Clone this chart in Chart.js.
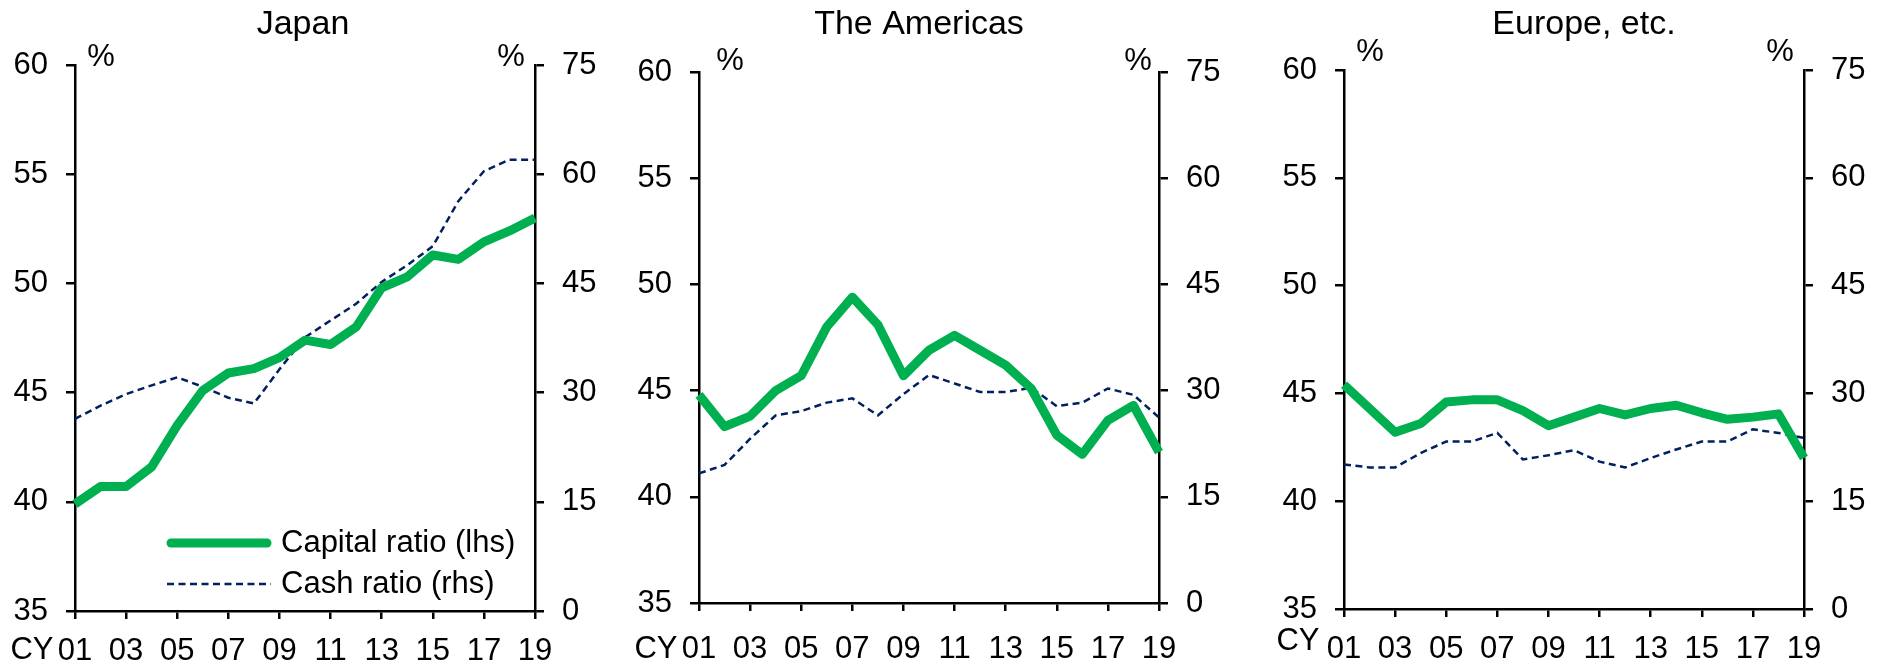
<!DOCTYPE html>
<html lang="en">
<head>
<meta charset="UTF-8">
<title>Capital ratio and cash ratio by region</title>
<style>
  body { margin: 0; background: #fff; }
  .wrap { position: relative; width: 1881px; height: 666px; overflow: hidden; }
  .wrap canvas { position: absolute; top: 0; }
</style>
</head>
<body>
<div class="wrap">
  <canvas id="japan" width="627" height="666" style="left:0px"></canvas>
  <canvas id="americas" width="627" height="666" style="left:627px"></canvas>
  <canvas id="europe" width="627" height="666" style="left:1254px"></canvas>
</div>

<script src="https://cdn.jsdelivr.net/npm/chart.js@4"></script>
<script>
// calendar years 2001-2019
const years = ['01','02','03','04','05','06','07','08','09','10','11','12','13','14','15','16','17','18','19'];
const leftTicks = [35, 40, 45, 50, 55, 60];
const rightTicks = [0, 15, 30, 45, 60, 75];

// capital ratio, lhs (%)
const japanCapital    = [39.9, 40.7, 40.7, 41.6, 43.5, 45.1, 45.9, 46.1, 46.6, 47.4, 47.2, 48.0, 49.8, 50.3, 51.3, 51.1, 51.9, 52.4, 53.0];
const americasCapital = [44.8, 43.3, 43.8, 45.0, 45.7, 48.0, 49.4, 48.1, 45.7, 46.9, 47.6, 46.9, 46.2, 45.1, 42.9, 42.0, 43.6, 44.3, 42.1];
const europeCapital   = [45.4, 44.3, 43.2, 43.6, 44.6, 44.7, 44.7, 44.2, 43.5, 43.9, 44.3, 44.0, 44.3, 44.45, 44.1, 43.8, 43.9, 44.05, 42.0];

// cash ratio, rhs (%)
const japanCash    = [26.4, 28.2, 29.8, 31.0, 32.1, 30.8, 29.3, 28.5, 33.2, 37.6, 39.9, 42.2, 45.2, 47.5, 50.1, 56.3, 60.4, 62.0, 62.0];
const americasCash = [18.3, 19.5, 23.2, 26.5, 27.1, 28.3, 28.9, 26.5, 29.5, 32.2, 31.0, 29.8, 29.8, 30.4, 27.8, 28.3, 30.3, 29.4, 26.2];
const europeCash   = [20.1, 19.7, 19.7, 21.7, 23.3, 23.3, 24.5, 20.8, 21.4, 22.1, 20.5, 19.7, 21.0, 22.2, 23.3, 23.3, 25.0, 24.5, 23.8];

const seriesNames = ['Capital ratio (lhs)', 'Cash ratio (rhs)'];

const FONT = '"Liberation Sans", Arial, sans-serif';
const green = '#00B050';
const navy = '#002060';

Chart.defaults.font.family = FONT;
Chart.defaults.font.size = 31;
Chart.defaults.color = '#000';

// titles, % marks, "CY" and the legend
const panelText = {
  id: 'panelText',
  afterDraw(chart, args, o) {
    const ctx = chart.ctx;
    ctx.save();
    ctx.fillStyle = '#000';
    ctx.textAlign = 'center';
    ctx.textBaseline = 'alphabetic';
    ctx.font = '34px ' + FONT;
    ctx.fillText(o.title, o.titleX, 34);

    ctx.font = '31px ' + FONT;
    ctx.textBaseline = 'middle';
    ctx.fillText('%', o.pctLX, o.pctY);
    ctx.fillText('%', o.pctRX, o.pctY);
    ctx.fillText('CY', o.cyX, o.cyY);

    if (o.legend) {
      const rows = [543, 584];
      chart.data.datasets.forEach((ds, i) => {
        const y = rows[i];
        ctx.save();
        ctx.strokeStyle = ds.borderColor;
        ctx.lineWidth = ds.borderWidth;
        ctx.lineCap = i === 0 ? 'round' : 'butt';
        ctx.setLineDash(ds.borderDash || []);
        ctx.beginPath();
        ctx.moveTo(i === 0 ? 171 : 167, y);
        ctx.lineTo(i === 0 ? 267 : 271, y);
        ctx.stroke();
        ctx.restore();
        ctx.textAlign = 'left';
        ctx.fillText(ds.label, 281, y);
      });
    }
    ctx.restore();
  }
};

function axisBase() {
  return {
    grid: { drawOnChartArea: false, tickLength: 9, lineWidth: 2.5, tickWidth: 2.5, color: '#000', tickColor: '#000' },
    border: { display: true, color: '#000', width: 2.5 }
  };
}

function buildPanel(id, p) {
  const yL = axisBase();
  const yR = axisBase();
  const x = axisBase();
  x.grid.tickLength = 8;
  x.grid.tickColor = c => (c.index % 2 === 0 ? '#000' : 'rgba(0,0,0,0)');

  new Chart(document.getElementById(id), {
    type: 'line',
    data: {
      labels: years,
      datasets: [
        {
          label: seriesNames[0], data: p.capital, yAxisID: 'yL',
          borderColor: green, borderWidth: 9, pointRadius: 0, tension: 0,
          borderJoinStyle: 'round', borderCapStyle: 'butt', fill: false
        },
        {
          label: seriesNames[1], data: p.cash, yAxisID: 'yR',
          borderColor: navy, borderWidth: 2.5, borderDash: [7, 4.5], pointRadius: 0, tension: 0, fill: false
        }
      ]
    },
    options: {
      responsive: false,
      animation: false,
      events: [],
      layout: { padding: { top: p.top, left: 0, right: 0, bottom: 0 } },
      plugins: {
        legend: { display: false },
        tooltip: { enabled: false },
        panelText: p.text
      },
      scales: {
        x: Object.assign(x, {
          type: 'category',
          offset: false,
          ticks: {
            autoSkip: false, maxRotation: 0, minRotation: 0, padding: p.xPad,
            callback: (v, i) => (i % 2 === 0 ? years[i] : '')
          },
          afterFit: s => { s.height = 666 - p.bottom; }
        }),
        yL: Object.assign(yL, {
          position: 'left',
          min: leftTicks[0], max: leftTicks[leftTicks.length - 1],
          ticks: { stepSize: leftTicks[1] - leftTicks[0], padding: 18 },
          afterFit: s => { s.width = p.left; }
        }),
        yR: Object.assign(yR, {
          position: 'right',
          min: rightTicks[0], max: rightTicks[rightTicks.length - 1],
          ticks: { stepSize: rightTicks[1] - rightTicks[0], padding: 18 },
          afterFit: s => { s.width = 627 - p.right; }
        })
      }
    },
    plugins: [panelText]
  });
}

buildPanel('japan', {
  capital: japanCapital, cash: japanCash,
  left: 75, right: 535, top: 65, bottom: 611, xPad: 14,
  text: { title: 'Japan', titleX: 303, pctLX: 101, pctRX: 511, pctY: 57, cyX: 32, cyY: 650, legend: true }
});

buildPanel('americas', {
  capital: americasCapital, cash: americasCash,
  left: 72, right: 532, top: 72, bottom: 603, xPad: 20,
  text: { title: 'The Americas', titleX: 292, pctLX: 103, pctRX: 511, pctY: 61, cyX: 29, cyY: 649, legend: false }
});

buildPanel('europe', {
  capital: europeCapital, cash: europeCash,
  left: 90, right: 550, top: 70, bottom: 609, xPad: 14,
  text: { title: 'Europe, etc.', titleX: 330, pctLX: 116, pctRX: 526, pctY: 52, cyX: 44, cyY: 641, legend: false }
});
</script>
</body>
</html>
